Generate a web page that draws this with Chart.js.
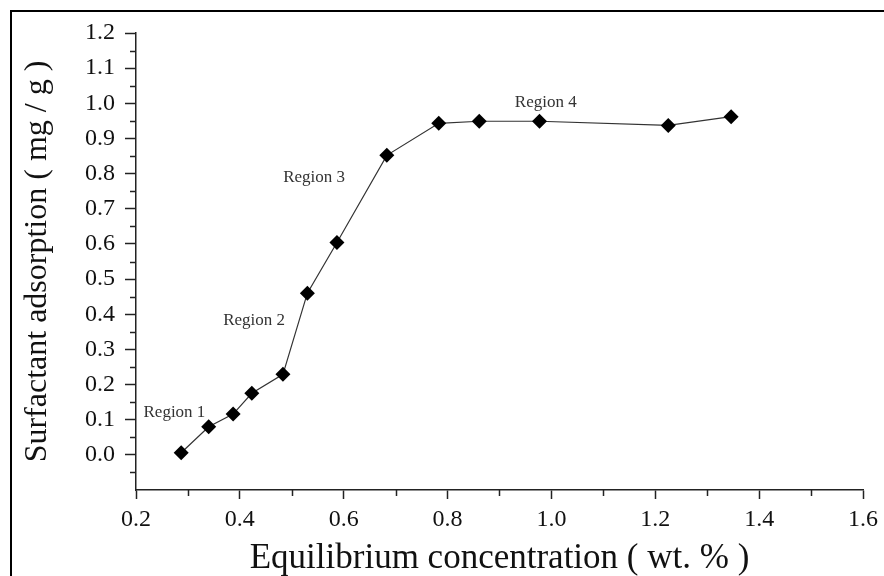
<!DOCTYPE html>
<html><head><meta charset="utf-8">
<style>html,body{margin:0;padding:0;background:#fff;} #wrap{width:884px;height:576px;position:relative;}</style>
<script src="https://cdn.jsdelivr.net/npm/chart.js@4.4.0/dist/chart.umd.min.js"></script>
</head><body><div id="wrap"><canvas id="c" width="884" height="576"></canvas></div>
<script>
const concentration = [0.287, 0.340, 0.387, 0.423, 0.483, 0.530, 0.587, 0.683, 0.783, 0.861, 0.977, 1.225, 1.346];
const adsorption    = [0.006, 0.080, 0.116, 0.175, 0.229, 0.460, 0.604, 0.852, 0.943, 0.949, 0.949, 0.937, 0.962];
const regionLabels = ['Region 1', 'Region 2', 'Region 3', 'Region 4'];
const regionX = [0.274, 0.4275, 0.543, 0.989];
const regionY = [0.120, 0.382, 0.789, 1.003];
const xTickValues = [0.2, 0.4, 0.6, 0.8, 1.0, 1.2, 1.4, 1.6];
const xTickLabels = ['0.2', '0.4', '0.6', '0.8', '1.0', '1.2', '1.4', '1.6'];
const yTickValues = [0.0, 0.1, 0.2, 0.3, 0.4, 0.5, 0.6, 0.7, 0.8, 0.9, 1.0, 1.1, 1.2];
const yTickLabels = ['0.0', '0.1', '0.2', '0.3', '0.4', '0.5', '0.6', '0.7', '0.8', '0.9', '1.0', '1.1', '1.2'];
const xMinorTicks = [0.3, 0.5, 0.7, 0.9, 1.1, 1.3, 1.5];
const yMinorTicks = [-0.05, 0.05, 0.15, 0.25, 0.35, 0.45, 0.55, 0.65, 0.75, 0.85, 0.95, 1.05, 1.15];
const xTitle = 'Equilibrium concentration ( wt. % )';
const yTitle = 'Surfactant adsorption ( mg / g )';

const SERIF = '"Liberation Serif", "DejaVu Serif", serif';
const AXIS_COLOR = '#222';

const extras = {
  id: 'extras',
  beforeDraw(chart) {
    const ctx = chart.ctx;
    ctx.save();
    ctx.fillStyle = '#fff';
    ctx.fillRect(0, 0, chart.width, chart.height);
    ctx.strokeStyle = '#000';
    ctx.lineWidth = 2;
    ctx.beginPath();
    ctx.moveTo(11, chart.height + 2);
    ctx.lineTo(11, 11);
    ctx.lineTo(chart.width + 2, 11);
    ctx.stroke();
    ctx.restore();
  },
  afterDraw(chart) {
    const ctx = chart.ctx;
    const xs = chart.scales.x, ys = chart.scales.y;
    ctx.save();
    ctx.strokeStyle = AXIS_COLOR;
    ctx.lineWidth = 1.5;
    ctx.beginPath();
    xMinorTicks.forEach(v => {
      const px = Math.round(xs.getPixelForValue(v)) + 0.5;
      ctx.moveTo(px, xs.top);
      ctx.lineTo(px, xs.top + 6);
    });
    yMinorTicks.forEach(v => {
      const py = Math.round(ys.getPixelForValue(v)) + 0.5;
      ctx.moveTo(ys.right - 6, py);
      ctx.lineTo(ys.right, py);
    });
    ctx.stroke();
    ctx.fillStyle = '#333';
    ctx.font = '17px ' + SERIF;
    ctx.textAlign = 'center';
    ctx.textBaseline = 'middle';
    regionLabels.forEach((t, i) => {
      ctx.fillText(t, xs.getPixelForValue(regionX[i]), ys.getPixelForValue(regionY[i]));
    });
    ctx.restore();
  }
};

new Chart(document.getElementById('c'), {
  type: 'line',
  data: {
    datasets: [{
      data: concentration.map((x, i) => ({ x: x, y: adsorption[i] })),
      borderColor: '#333',
      borderWidth: 1.2,
      pointStyle: 'rectRot',
      pointRadius: 7.5,
      pointBackgroundColor: '#000',
      pointBorderColor: '#000',
      pointBorderWidth: 0,
      tension: 0,
      fill: false
    }]
  },
  options: {
    responsive: false,
    animation: false,
    devicePixelRatio: 1,
    layout: { padding: { top: 33, right: 18, left: 0, bottom: 0 } },
    plugins: { legend: { display: false }, tooltip: { enabled: false } },
    scales: {
      x: {
        type: 'linear',
        min: 0.2, max: 1.6,
        afterFit(s) { s.height = 86; },
        afterBuildTicks(s) { s.ticks = xTickValues.map(v => ({ value: v })); },
        ticks: {
          callback: (v, i) => xTickLabels[i],
          font: { family: SERIF, size: 24 },
          color: '#111',
          padding: 6,
          maxRotation: 0,
          autoSkip: false
        },
        grid: { drawOnChartArea: false, tickLength: 9, tickColor: AXIS_COLOR, tickWidth: 1.5 },
        border: { color: AXIS_COLOR, width: 1.5 },
        title: {
          display: true, text: xTitle, color: '#111',
          font: { family: SERIF, size: 35, lineHeight: 1 },
          padding: { top: 0, bottom: 0 }
        }
      },
      y: {
        type: 'linear',
        min: -0.1, max: 1.2,
        afterFit(s) { s.width = 136; },
        afterBuildTicks(s) { s.ticks = yTickValues.map(v => ({ value: v })); },
        ticks: {
          callback: (v, i) => yTickLabels[i],
          font: { family: SERIF, size: 24 },
          color: '#111',
          padding: 10,
          autoSkip: false
        },
        grid: { drawOnChartArea: false, tickLength: 11, tickColor: AXIS_COLOR, tickWidth: 1.5 },
        border: { color: AXIS_COLOR, width: 1.5 },
        title: {
          display: true, text: yTitle, color: '#111',
          font: { family: SERIF, size: 32, lineHeight: 1 },
          padding: { top: 22, bottom: 0 }
        }
      }
    }
  },
  plugins: [extras]
});
</script></body></html>
